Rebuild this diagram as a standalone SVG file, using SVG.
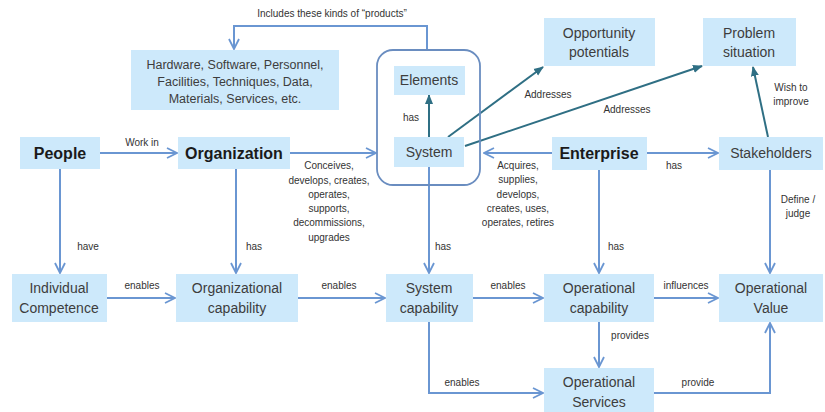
<svg xmlns="http://www.w3.org/2000/svg" width="825" height="412" viewBox="0 0 825 412">
<defs>
<style>
.box{fill:#cde9fb;}
.nt{font-family:"Liberation Sans",Arial,sans-serif;font-size:14px;fill:#3d3d3d;text-anchor:middle;}
.nb{font-family:"Liberation Sans",Arial,sans-serif;font-size:16px;font-weight:bold;fill:#1a1a1a;text-anchor:middle;}
.lb{font-family:"Liberation Sans",Arial,sans-serif;font-size:10px;fill:#333;text-anchor:middle;}
.c{fill:none;stroke:#6a96d2;stroke-width:2;marker-end:url(#a);}
.t{fill:none;stroke:#2f6f84;stroke-width:2;marker-end:url(#b);}
</style>
<marker id="a" viewBox="0 0 12 12" refX="11" refY="6" markerWidth="12" markerHeight="12" markerUnits="userSpaceOnUse" orient="auto">
<path d="M1,1 L11,6 L1,11" fill="none" stroke="#6a96d2" stroke-width="1.8"/>
</marker>
<marker id="b" viewBox="0 0 10 10" refX="9" refY="5" markerWidth="10" markerHeight="10" markerUnits="userSpaceOnUse" orient="auto">
<path d="M0,1 L10,5 L0,9 Z" fill="#2f6f84"/>
</marker>
</defs>
<rect width="825" height="412" fill="#fff"/>
<g id="connectors">
<path class="c" d="M427,50 V26 H234 V49"/>
<path class="c" d="M100,153 H177"/>
<path class="c" d="M290,153 H376"/>
<path class="c" d="M552,153 H484"/>
<path class="c" d="M647,153 H718"/>
<path class="t" d="M429,137 V95"/>
<path class="t" d="M448,137 L543,67"/>
<path class="t" d="M465,146 L702,66"/>
<path class="t" d="M768,137 L753,67"/>
<path class="c" d="M60,169 V273"/>
<path class="c" d="M236,169 V273"/>
<path class="c" d="M429,167 V273"/>
<path class="c" d="M599,170 V273"/>
<path class="c" d="M770,170 V273"/>
<path class="c" d="M107,298 H175"/>
<path class="c" d="M298,298 H385"/>
<path class="c" d="M473,298 H543"/>
<path class="c" d="M654,298 H718"/>
<path class="c" d="M599,322 V367"/>
<path class="c" d="M429,322 V393 H543"/>
<path class="c" d="M654,393 H770 V323"/>
<text class="lb" x="332" y="17">Includes these kinds of “products”</text>
<text class="lb" x="142" y="146">Work in</text>
<text class="lb" x="329" y="169">Conceives,</text>
<text class="lb" x="329" y="184">develops, creates,</text>
<text class="lb" x="329" y="198">operates,</text>
<text class="lb" x="329" y="212">supports,</text>
<text class="lb" x="329" y="226">decommissions,</text>
<text class="lb" x="329" y="241">upgrades</text>
<text class="lb" x="518" y="169">Acquires,</text>
<text class="lb" x="518" y="183">supplies,</text>
<text class="lb" x="518" y="198">develops,</text>
<text class="lb" x="518" y="212">creates, uses,</text>
<text class="lb" x="518" y="226">operates, retires</text>
<text class="lb" x="674" y="169">has</text>
<text class="lb" x="411" y="121">has</text>
<text class="lb" x="548" y="98">Addresses</text>
<text class="lb" x="627" y="113">Addresses</text>
<text class="lb" x="791" y="91">Wish to</text>
<text class="lb" x="791" y="105">improve</text>
<text class="lb" x="88" y="250">have</text>
<text class="lb" x="254" y="250">has</text>
<text class="lb" x="443" y="250">has</text>
<text class="lb" x="616" y="250">has</text>
<text class="lb" x="798" y="203">Define /</text>
<text class="lb" x="798" y="217">judge</text>
<text class="lb" x="142" y="289">enables</text>
<text class="lb" x="339" y="289">enables</text>
<text class="lb" x="508" y="289">enables</text>
<text class="lb" x="686" y="289">influences</text>
<text class="lb" x="630" y="339">provides</text>
<text class="lb" x="462" y="386">enables</text>
<text class="lb" x="698" y="386">provide</text>
</g>
<g id="system-container">
<rect x="377" y="50" width="103" height="135" rx="16" fill="none" stroke="#6a8dc0" stroke-width="1.8"/>
</g>
<g id="products">
<rect class="box" x="131" y="50" width="208" height="60"/>
<text class="nt" x="235" y="69" style="font-size:12.5px">Hardware, Software, Personnel,</text>
<text class="nt" x="235" y="86" style="font-size:12.5px">Facilities, Techniques, Data,</text>
<text class="nt" x="235" y="103" style="font-size:12.5px">Materials, Services, etc.</text>
</g>
<g id="elements">
<rect class="box" x="394" y="66" width="71" height="29"/>
<text class="nt" x="429" y="85">Elements</text>
</g>
<g id="system">
<rect class="box" x="394" y="137" width="70" height="30"/>
<text class="nt" x="429" y="157">System</text>
</g>
<g id="opportunity">
<rect class="box" x="544" y="18" width="111" height="48"/>
<text class="nt" x="599" y="38">Opportunity</text>
<text class="nt" x="599" y="57">potentials</text>
</g>
<g id="problem">
<rect class="box" x="703" y="18" width="93" height="48"/>
<text class="nt" x="749" y="38">Problem</text>
<text class="nt" x="749" y="57">situation</text>
</g>
<g id="people">
<rect class="box" x="20" y="137" width="80" height="32"/>
<text class="nb" x="60" y="159">People</text>
</g>
<g id="organization">
<rect class="box" x="178" y="137" width="112" height="32"/>
<text class="nb" x="234" y="159">Organization</text>
</g>
<g id="enterprise">
<rect class="box" x="552" y="137" width="95" height="33"/>
<text class="nb" x="599" y="159">Enterprise</text>
</g>
<g id="stakeholders">
<rect class="box" x="719" y="137" width="104" height="33"/>
<text class="nt" x="771" y="158">Stakeholders</text>
</g>
<g id="individual-competence">
<rect class="box" x="12" y="274" width="95" height="48"/>
<text class="nt" x="59" y="293">Individual</text>
<text class="nt" x="59" y="313">Competence</text>
</g>
<g id="organizational-capability">
<rect class="box" x="176" y="274" width="122" height="48"/>
<text class="nt" x="237" y="293">Organizational</text>
<text class="nt" x="237" y="313">capability</text>
</g>
<g id="system-capability">
<rect class="box" x="386" y="274" width="87" height="48"/>
<text class="nt" x="429" y="293">System</text>
<text class="nt" x="429" y="313">capability</text>
</g>
<g id="operational-capability">
<rect class="box" x="544" y="274" width="110" height="48"/>
<text class="nt" x="599" y="293">Operational</text>
<text class="nt" x="599" y="313">capability</text>
</g>
<g id="operational-value">
<rect class="box" x="719" y="274" width="104" height="48"/>
<text class="nt" x="771" y="293">Operational</text>
<text class="nt" x="771" y="313">Value</text>
</g>
<g id="operational-services">
<rect class="box" x="544" y="368" width="110" height="44"/>
<text class="nt" x="599" y="387">Operational</text>
<text class="nt" x="599" y="407">Services</text>
</g>
</svg>
